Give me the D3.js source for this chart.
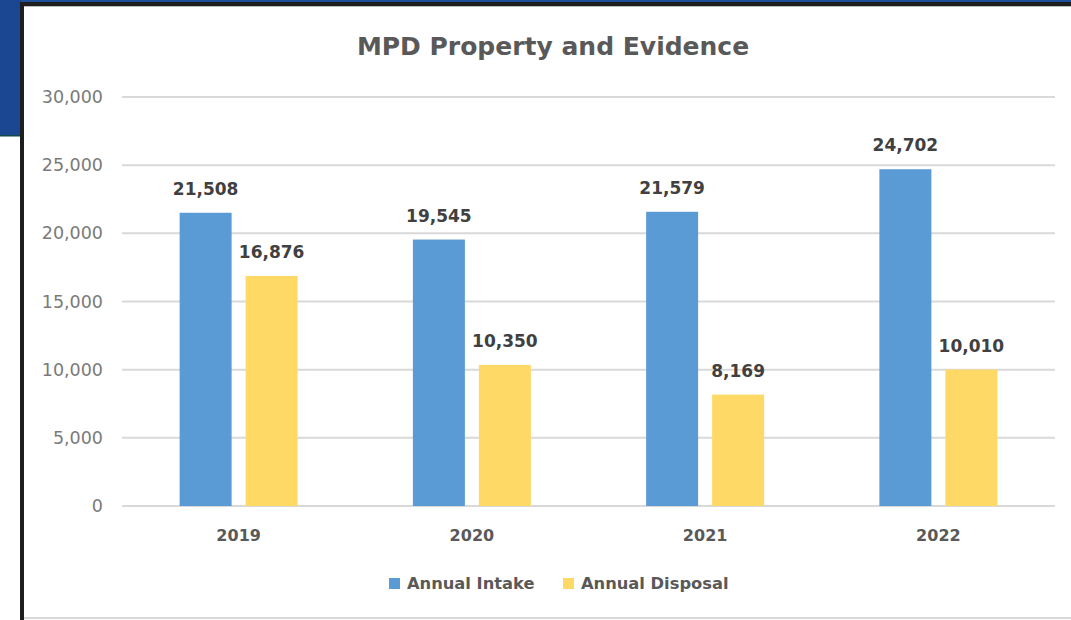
<!DOCTYPE html>
<html><head><meta charset="utf-8">
<script src="https://cdn.jsdelivr.net/npm/d3@7"></script>
<style>body{margin:0;background:#fff;overflow:hidden}</style>
</head><body>
<svg id="c" width="1071" height="620"></svg>
<script>
const categories = ["2019", "2020", "2021", "2022"];
const seriesNames = ["Annual Intake", "Annual Disposal"];
const intake = [21508, 19545, 21579, 24702];
const disposal = [16876, 10350, 8169, 10010];
const yTicks = [0, 5000, 10000, 15000, 20000, 25000, 30000];
const colors = ["#5B9BD5", "#FFD966"];

const svg = d3.select("#c");
const font = "'DejaVu Sans', sans-serif";

// background frame
svg.append("rect").attr("x",0).attr("y",0).attr("width",1071).attr("height",620).attr("fill","#fff");
svg.append("rect").attr("x",0).attr("y",0).attr("width",1071).attr("height",3).attr("fill","#1F4E9A");
svg.append("rect").attr("x",0).attr("y",0).attr("width",21).attr("height",136).attr("fill","#1B4691");
svg.append("rect").attr("x",0).attr("y",135).attr("width",21).attr("height",1.5).attr("fill","#0f4a4a");
svg.append("rect").attr("x",20).attr("y",2).attr("width",1051).attr("height",4).attr("fill","#1e1e1e");
svg.append("rect").attr("x",20).attr("y",6).attr("width",1051).attr("height",1).attr("fill","#bbb");
svg.append("rect").attr("x",20).attr("y",2).attr("width",4).attr("height",618).attr("fill","#1e1e1e");
svg.append("rect").attr("x",24).attr("y",617).attr("width",1047).attr("height",2).attr("fill","#d9d9d9");

const x0 = d3.scaleBand().domain(categories).range([122, 1055]);
const x1 = d3.scaleBand().domain(seriesNames).range([-59, 59]).paddingInner(0.212);
const y = d3.scaleLinear().domain([0, 30000]).range([506, 97]);

// gridlines
svg.append("g").selectAll("line").data(yTicks).join("line")
  .attr("x1",122).attr("x2",1055)
  .attr("y1",d=>y(d)).attr("y2",d=>y(d))
  .attr("stroke","#d9d9d9").attr("stroke-width",2);

// y axis labels
const yAxis = d3.axisLeft(y).tickValues(yTicks).tickFormat(d3.format(",")).tickSize(0).tickPadding(0);
const yg = svg.append("g").attr("transform","translate(103,0)").call(yAxis);
yg.select(".domain").remove();
yg.selectAll("text").attr("font-family",font).attr("font-size",17.5).attr("fill","#7a7a7a");

// x axis labels
const xAxis = d3.axisBottom(x0).tickSize(0).tickPadding(0);
const xg = svg.append("g").attr("transform","translate(0,530)").call(xAxis);
xg.select(".domain").remove();
xg.selectAll("text").attr("font-family",font).attr("font-size",16).attr("font-weight","bold").attr("fill","#595959");

const data = categories.map((c,i)=>({cat:c, vals:[intake[i], disposal[i]]}));

const groups = svg.append("g").selectAll("g").data(data).join("g")
  .attr("transform", d=>`translate(${x0(d.cat)+x0.bandwidth()/2},0)`);

groups.selectAll("rect").data(d=>d.vals.map((v,j)=>({name:seriesNames[j], v, j}))).join("rect")
  .attr("x", d=>x1(d.name)).attr("width", x1.bandwidth())
  .attr("y", d=>y(d.v)).attr("height", d=>y(0)-y(d.v))
  .attr("fill", d=>colors[d.j]);

groups.selectAll("text.lbl").data(d=>d.vals.map((v,j)=>({name:seriesNames[j], v, j}))).join("text")
  .attr("class","lbl")
  .attr("x", d=>x1(d.name)+x1.bandwidth()/2).attr("y", d=>y(d.v)-18)
  .attr("text-anchor","middle")
  .attr("font-family",font).attr("font-size",17).attr("font-weight","bold").attr("fill","#404040")
  .text(d=>d3.format(",")(d.v));

// title
svg.append("text").attr("x",553).attr("y",55).attr("text-anchor","middle")
  .attr("font-family",font).attr("font-size",25).attr("font-weight","bold").attr("fill","#595959")
  .text("MPD Property and Evidence");

// legend
const legX = [389, 563];
const leg = svg.append("g").selectAll("g").data(seriesNames).join("g")
  .attr("transform",(d,i)=>`translate(${legX[i]},0)`);
leg.append("rect").attr("x",0).attr("y",578).attr("width",11).attr("height",11).attr("fill",(d,i)=>colors[i]);
leg.append("text").attr("x",18).attr("y",589).attr("font-family",font).attr("font-size",16.3).attr("font-weight","bold")
  .attr("fill","#595959").text(d=>d);
</script>
</body></html>
